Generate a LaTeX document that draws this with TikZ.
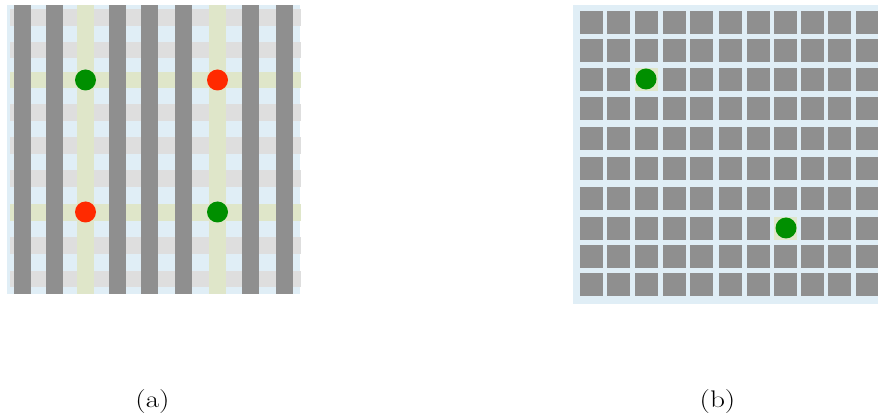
\documentclass[tikz,border=0pt]{standalone}
\usepackage{fontspec}
\newfontfamily\capfont[FakeStretch=1.22]{Latin Modern Roman}
\definecolor{bgblue}{HTML}{E0EEF6}
\definecolor{lgray}{HTML}{DEDEDE}
\definecolor{dgray}{HTML}{8F8F8F}
\definecolor{ylw}{HTML}{DFE6C9}
\definecolor{dotgreen}{HTML}{008F00}
\definecolor{dotred}{HTML}{FF2A00}
\tikzset{
  dot/.style={circle,inner sep=0pt,minimum size=21pt},
  gdot/.style={dot,fill=dotgreen},
  rdot/.style={dot,fill=dotred},
  caption/.style={inner sep=0pt,font=\capfont\fontsize{24}{28}\selectfont}
}
\begin{document}
\begin{tikzpicture}[x=1pt,y=-1pt]
\useasboundingbox (0,0) rectangle (878,419);
\clip (0,0) rectangle (878,419);
% ---------- panel (a) ----------
\fill[bgblue] (7,5) rectangle (300,294);
\foreach \t [count=\i] in {9,41.7,71.7,104,137,170,204,237,270.7}{
  \ifnum\i=3 \def\c{ylw}\else\ifnum\i=7 \def\c{ylw}\else\def\c{lgray}\fi\fi
  \fill[\c] (10,\t) rectangle (301,\t+16.7);
}
\foreach \l [count=\i] in {14,46,77,109,141,175,209,242,276}{
  \ifnum\i=3 \def\c{ylw}\else\ifnum\i=7 \def\c{ylw}\else\def\c{dgray}\fi\fi
  \fill[\c] (\l,5) rectangle (\l+17,294);
}
\node[gdot] (a1) at (85.5,80) {};
\node[rdot] (a2) at (217.5,80) {};
\node[rdot] (a3) at (85.5,212) {};
\node[gdot] (a4) at (217.5,212) {};
% ---------- panel (b) ----------
\fill[bgblue] (573,5) rectangle (890,304);
\foreach \y in {11,39,68,97,127,157,187,217,245,273}{
  \foreach \x in {580,607,635,663,690,719,747,774,801,828,856}{
    \fill[dgray] (\x,\y) rectangle (\x+23,\y+23);
  }
}
\fill[ylw] (635,68) rectangle (658,91);
\fill[ylw] (774,217) rectangle (797,240);
\node[gdot] (b1) at (646,79) {};
\node[gdot] (b2) at (786,228) {};
% ---------- captions ----------
\node[caption] (capa) at (152.5,402) {(a)};
\node[caption] (capb) at (717.5,402) {(b)};
\end{tikzpicture}
\end{document}
